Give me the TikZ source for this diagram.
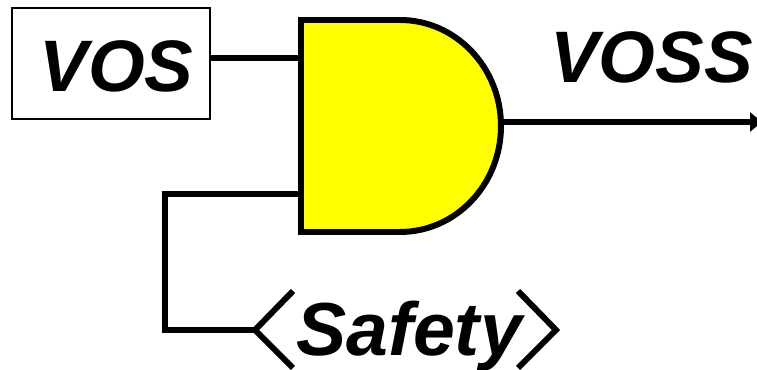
\documentclass[tikz,border=0pt]{standalone}
\usepackage{fontspec}
\setmainfont{Liberation Sans}
\usetikzlibrary{arrows.meta, positioning}
\definecolor{gateyellow}{RGB}{255,255,0}
\tikzset{
  vosbox/.style  ={draw, rectangle, minimum width=3.96cm, minimum height=2.22cm, inner sep=0pt, line width=0.85pt},
  gatebody/.style={draw, fill=gateyellow, line width=3.4pt, line join=miter},
  wire/.style    ={line width=3.4pt, line join=miter},
  outwire/.style ={-{Triangle[length=2.4mm, width=3.8mm]}, line width=3.4pt}, % gate -> right edge
  bracket/.style ={line width=3.4pt, line join=miter},
  lbl/.style     ={font=\fontsize{41.5}{41.5}\selectfont\bfseries\itshape, inner sep=0pt, anchor=base},
  safelbl/.style ={lbl, font=\fontsize{42.8}{42.8}\selectfont\bfseries\itshape},
}

\begin{document}
\begin{tikzpicture}
  \useasboundingbox (0,0) rectangle (15.14,-7.4);
  \coordinate (in1) at (6.02,-1.16);
  \coordinate (in2) at (6.02,-3.88);
  \coordinate (out) at (10.02,-2.44);
  \coordinate (end) at (15.24,-2.44);
  \coordinate (corner1) at (3.3,-3.88);
  \coordinate (corner2) at (3.3,-6.6);
  \coordinate (ltip) at (5.1,-6.6);
  \coordinate (rtip) at (11.12,-6.6);
  \node[vosbox] (vos) at (2.22,-1.27) {};
  \node[lbl] (voslbl) at (2.33,-1.84) {VOS};
  \node[lbl] (vosslbl) at (13.03,-1.66) {VOSS};
  \node[safelbl] (safety) at (8.18,-7.12) {Safety};
  \draw[wire] (vos.east |- in1) -- (in1);
  \draw[wire] (in2) -- (corner1) -- (corner2) -- (ltip);
  \draw[outwire] (out) -- (end);
  \draw[gatebody] (6.02,-0.4) -- (8.0,-0.4) arc[start angle=90, end angle=-90, x radius=2.02cm, y radius=2.12cm] -- (6.02,-4.64) -- cycle;
  \draw[bracket] (5.86,-5.82) -- (ltip) -- (5.86,-7.36);
  \draw[bracket] (10.36,-5.82) -- (rtip) -- (10.36,-7.36);
\end{tikzpicture}
\end{document}
